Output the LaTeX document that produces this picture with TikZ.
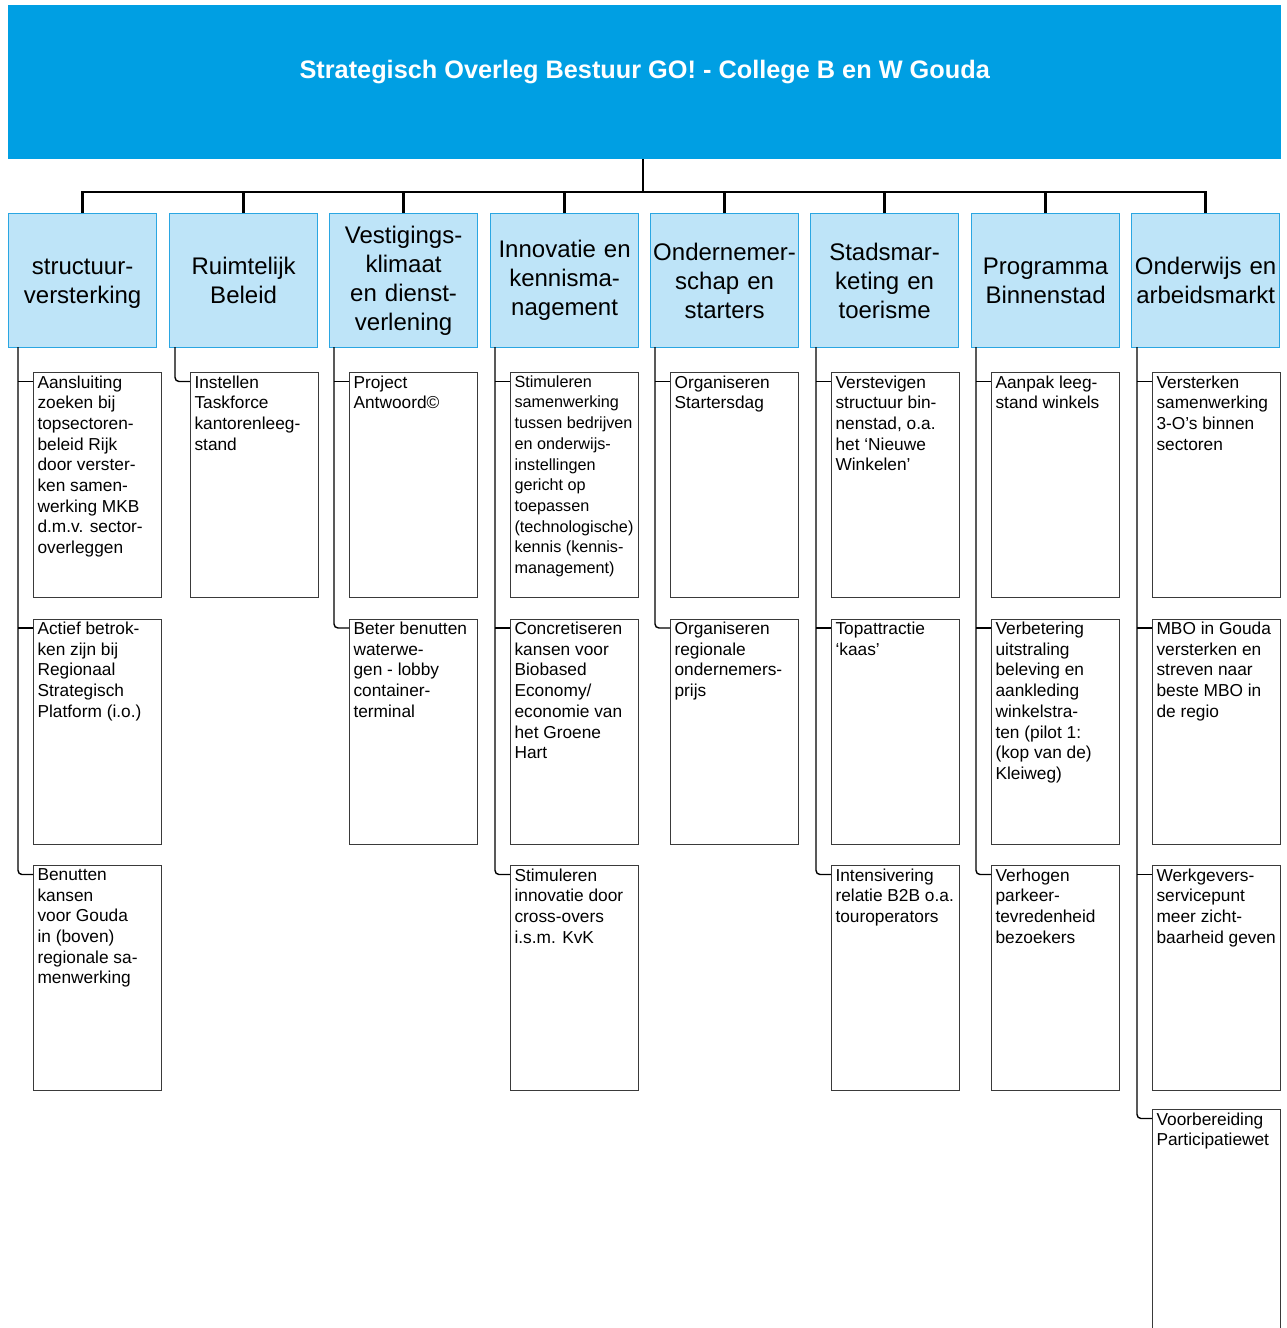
\documentclass[tikz,border=0pt]{standalone}
\usepackage{fontspec}
\setmainfont{Liberation Sans}
\definecolor{topblue}{HTML}{009FE3}
\definecolor{hdrfill}{HTML}{BEE4F8}
\definecolor{hdrline}{HTML}{2AA6E2}
\definecolor{boxline}{HTML}{3A3A3A}
\newcommand{\cbx}[1]{\parbox[c][219pt][t]{120pt}{\raggedright #1}}
\tikzset{
  topbox/.style={fill=topblue, draw=none, anchor=north west, minimum width=1273pt, minimum height=154pt, inner sep=0pt},
  hdr/.style={draw=hdrline, fill=hdrfill, line width=1.2pt, anchor=north west, minimum width=148pt, minimum height=134pt, text width=144pt, align=center, inner sep=2pt, font=\fontsize{24}{29}\selectfont},
  child/.style={draw=boxline, line width=1.1pt, anchor=north west, inner xsep=4pt, inner ysep=3pt, font=\fontsize{17.3}{20.7}\selectfont},
  tree/.style={line width=2.6pt, black},
  conn/.style={line width=1.4pt, black, rounded corners=4pt},
}
\begin{document}
\begin{tikzpicture}[x=1pt,y=-1pt]
\clip (0,0) rectangle (1287,1328);
\useasboundingbox (0,0) rectangle (1287,1328);
\node[topbox, label={[text=white, font=\fontsize{25.3}{30}\selectfont\bfseries, yshift=10.5pt]center:Strategisch Overleg Bestuur GO! - College B en W Gouda}] (title) at (8,5) {};

% header boxes
\node[hdr] (h1) at (8,213) {\vphantom{Ag}\smash{structuur-}\\\smash{versterking}\vphantom{A}};
\node[hdr] (h2) at (169,213) {Ruimtelijk\\Beleid};
\node[hdr] (h3) at (329,213) {Vestigings-\\klimaat\\en dienst-\\verlening};
\node[hdr] (h4) at (490,213) {Innovatie en\\kennisma-\\nagement};
\node[hdr] (h5) at (650,213) {Ondernemer-\\schap en\\starters};
\node[hdr] (h6) at (810,213) {Stadsmar-\\keting en\\toerisme};
\node[hdr] (h7) at (971,213) {Programma\\Binnenstad};
\node[hdr] (h8) at (1131,213) {Onderwijs en\\arbeidsmarkt};

% tree
\coordinate (j) at (643,192);
\draw[tree] (title.south -| j) -- (j);
\draw[tree, line cap=rect] (h1.north |- j) -- (h8.north |- j);
\foreach \i in {1,...,8} { \draw[tree] (h\i.north |- j) -- (h\i.north); }

% column 1
\node[child] (a1) at (33,372) {\cbx{Aansluiting\\zoeken bij\\topsectoren-\\beleid Rijk\\door verster-\\ken samen-\\werking MKB\\d.m.v. sector-\\overleggen}};
\node[child] (a2) at (33,618.5) {\cbx{Actief betrok-\\ken zijn bij\\Regionaal\\Strategisch\\Platform (i.o.)}};
\node[child] (a3) at (33,865) {\cbx{Benutten\\kansen\\voor Gouda\\in (boven)\\regionale sa-\\menwerking}};
% column 2
\node[child] (b1) at (190,372) {\cbx{Instellen\\Taskforce\\kantorenleeg-\\stand}};
% column 3
\node[child] (c1) at (349,372) {\cbx{Project\\Antwoord©}};
\node[child] (c2) at (349,618.5) {\cbx{Beter benutten\\waterwe-\\gen - lobby\\container-\\terminal}};
% column 4
\node[child] (d1) at (510,372) {\cbx{\fontsize{16.2}{20.7}\selectfont Stimuleren\\samenwerking\\tussen bedrijven\\en onderwijs-\\instellingen\\gericht op\\toepassen\\(technologische)\\kennis (kennis-\\management)}};
\node[child] (d2) at (510,618.5) {\cbx{Concretiseren\\kansen voor\\Biobased\\Economy/\\economie van\\het Groene\\Hart}};
\node[child] (d3) at (510,865) {\cbx{Stimuleren\\innovatie door\\cross-overs\\i.s.m. KvK}};
% column 5
\node[child] (e1) at (670,372) {\cbx{Organiseren\\Startersdag}};
\node[child] (e2) at (670,618.5) {\cbx{Organiseren\\regionale\\ondernemers-\\prijs}};
% column 6
\node[child] (f1) at (831,372) {\cbx{Verstevigen\\structuur bin-\\nenstad, o.a.\\het ‘Nieuwe\\Winkelen’}};
\node[child] (f2) at (831,618.5) {\cbx{Topattractie\\‘kaas’}};
\node[child] (f3) at (831,865) {\cbx{Intensivering\\relatie B2B o.a.\\touroperators}};
% column 7
\node[child] (g1) at (991,372) {\cbx{Aanpak leeg-\\stand winkels}};
\node[child] (g2) at (991,618.5) {\cbx{Verbetering\\uitstraling\\beleving en\\aankleding\\winkelstra-\\ten (pilot 1:\\(kop van de)\\Kleiweg)}};
\node[child] (g3) at (991,865) {\cbx{Verhogen\\parkeer-\\tevredenheid\\bezoekers}};
% column 8
\node[child] (k1) at (1152,372) {\cbx{Versterken\\samenwerking\\3-O’s binnen\\sectoren}};
\node[child] (k2) at (1152,618.5) {\cbx{MBO in Gouda\\versterken en\\streven naar\\beste MBO in\\de regio}};
\node[child] (k3) at (1152,865) {\cbx{Werkgevers-\\servicepunt\\meer zicht-\\baarheid geven}};
\node[child] (k4) at (1152,1109) {\cbx{Voorbereiding\\Participatiewet}};

% column connectors
\coordinate (va) at (18,347);
\coordinate (vb) at (175,347);
\coordinate (vc) at (334,347);
\coordinate (vd) at (495,347);
\coordinate (ve) at (655,347);
\coordinate (vf) at (816,347);
\coordinate (vg) at (976,347);
\coordinate (vk) at (1137,347);

\foreach \c/\n in {a/3,b/1,c/2,d/3,e/2,f/3,g/3,k/4} {
  \foreach \m in {1,...,\n} {
    \coordinate (t\c\m) at ([yshift=-9.5pt]\c\m.north west);
  }
  \draw[conn] (v\c) |- (t\c\n);
}
\foreach \c/\m in {a/1,a/2,c/1,d/1,d/2,e/1,f/1,f/2,g/1,g/2,k/1,k/2,k/3} {
  \draw[line width=1.4pt] (v\c |- t\c\m) -- (t\c\m);
}
\end{tikzpicture}
\end{document}
